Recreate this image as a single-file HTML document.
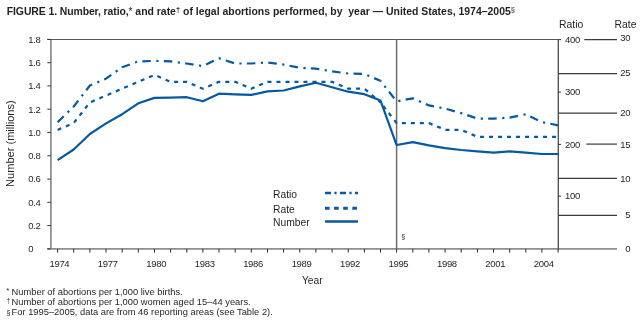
<!DOCTYPE html>
<html><head><meta charset="utf-8"><style>
html,body{margin:0;padding:0;background:#fff;width:641px;height:322px;overflow:hidden}
svg{display:block;will-change:transform}
text{font-family:"Liberation Sans",sans-serif;fill:#231f20}
</style></head><body>
<svg width="641" height="322" viewBox="0 0 641 322">
<text x="6.8" y="14.6" font-size="10.45" font-weight="bold" fill="#262224"><tspan letter-spacing="-0.1">FIGURE 1. Number, ratio,</tspan><tspan font-size="10" font-weight="normal">*</tspan><tspan> and rate</tspan><tspan font-size="7.5" dy="-2.6">†</tspan><tspan dy="2.6"> of legal abortions performed, by&#160; year — United States, 1974–2005</tspan><tspan font-size="7.5" font-weight="normal" dy="-2.2">§</tspan></text>

<line x1="50.9" y1="39.3" x2="50.9" y2="249" stroke="#8d8a8d" stroke-width="1.7"/>
<line x1="47.3" y1="39.5" x2="558" y2="39.5" stroke="#5a5558" stroke-width="1.2"/>
<line x1="47.3" y1="248.9" x2="617" y2="248.9" stroke="#8f8f8a" stroke-width="1.8"/>
<line x1="47.3" y1="248.9" x2="50.7" y2="248.9" stroke="#333" stroke-width="1"/>
<text x="28.3" y="252.2" font-size="9.5" letter-spacing="-0.3">0</text>
<line x1="47.3" y1="225.6" x2="50.7" y2="225.6" stroke="#333" stroke-width="1"/>
<text x="28.3" y="228.9" font-size="9.5" letter-spacing="-0.3">0.2</text>
<line x1="47.3" y1="202.3" x2="50.7" y2="202.3" stroke="#333" stroke-width="1"/>
<text x="28.3" y="205.6" font-size="9.5" letter-spacing="-0.3">0.4</text>
<line x1="47.3" y1="179.1" x2="50.7" y2="179.1" stroke="#333" stroke-width="1"/>
<text x="28.3" y="182.4" font-size="9.5" letter-spacing="-0.3">0.6</text>
<line x1="47.3" y1="155.8" x2="50.7" y2="155.8" stroke="#333" stroke-width="1"/>
<text x="28.3" y="159.1" font-size="9.5" letter-spacing="-0.3">0.8</text>
<line x1="47.3" y1="132.5" x2="50.7" y2="132.5" stroke="#333" stroke-width="1"/>
<text x="28.3" y="135.8" font-size="9.5" letter-spacing="-0.3">1.0</text>
<line x1="47.3" y1="109.2" x2="50.7" y2="109.2" stroke="#333" stroke-width="1"/>
<text x="28.3" y="112.5" font-size="9.5" letter-spacing="-0.3">1.2</text>
<line x1="47.3" y1="85.9" x2="50.7" y2="85.9" stroke="#333" stroke-width="1"/>
<text x="28.3" y="89.2" font-size="9.5" letter-spacing="-0.3">1.4</text>
<line x1="47.3" y1="62.7" x2="50.7" y2="62.7" stroke="#333" stroke-width="1"/>
<text x="28.3" y="66.0" font-size="9.5" letter-spacing="-0.3">1.6</text>
<line x1="47.3" y1="39.4" x2="50.7" y2="39.4" stroke="#333" stroke-width="1"/>
<text x="28.3" y="42.7" font-size="9.5" letter-spacing="-0.3">1.8</text>
<line x1="57.6" y1="249" x2="57.6" y2="252.6" stroke="#2a2a2a" stroke-width="1"/>
<line x1="73.7" y1="249" x2="73.7" y2="252.6" stroke="#2a2a2a" stroke-width="1"/>
<line x1="89.9" y1="249" x2="89.9" y2="252.6" stroke="#2a2a2a" stroke-width="1"/>
<line x1="106.0" y1="249" x2="106.0" y2="252.6" stroke="#2a2a2a" stroke-width="1"/>
<line x1="122.2" y1="249" x2="122.2" y2="252.6" stroke="#2a2a2a" stroke-width="1"/>
<line x1="138.3" y1="249" x2="138.3" y2="252.6" stroke="#2a2a2a" stroke-width="1"/>
<line x1="154.5" y1="249" x2="154.5" y2="252.6" stroke="#2a2a2a" stroke-width="1"/>
<line x1="170.6" y1="249" x2="170.6" y2="252.6" stroke="#2a2a2a" stroke-width="1"/>
<line x1="186.8" y1="249" x2="186.8" y2="252.6" stroke="#2a2a2a" stroke-width="1"/>
<line x1="202.9" y1="249" x2="202.9" y2="252.6" stroke="#2a2a2a" stroke-width="1"/>
<line x1="219.0" y1="249" x2="219.0" y2="252.6" stroke="#2a2a2a" stroke-width="1"/>
<line x1="235.2" y1="249" x2="235.2" y2="252.6" stroke="#2a2a2a" stroke-width="1"/>
<line x1="251.3" y1="249" x2="251.3" y2="252.6" stroke="#2a2a2a" stroke-width="1"/>
<line x1="267.5" y1="249" x2="267.5" y2="252.6" stroke="#2a2a2a" stroke-width="1"/>
<line x1="283.6" y1="249" x2="283.6" y2="252.6" stroke="#2a2a2a" stroke-width="1"/>
<line x1="299.8" y1="249" x2="299.8" y2="252.6" stroke="#2a2a2a" stroke-width="1"/>
<line x1="315.9" y1="249" x2="315.9" y2="252.6" stroke="#2a2a2a" stroke-width="1"/>
<line x1="332.1" y1="249" x2="332.1" y2="252.6" stroke="#2a2a2a" stroke-width="1"/>
<line x1="348.2" y1="249" x2="348.2" y2="252.6" stroke="#2a2a2a" stroke-width="1"/>
<line x1="364.4" y1="249" x2="364.4" y2="252.6" stroke="#2a2a2a" stroke-width="1"/>
<line x1="380.5" y1="249" x2="380.5" y2="252.6" stroke="#2a2a2a" stroke-width="1"/>
<line x1="396.6" y1="249" x2="396.6" y2="252.6" stroke="#2a2a2a" stroke-width="1"/>
<line x1="412.8" y1="249" x2="412.8" y2="252.6" stroke="#2a2a2a" stroke-width="1"/>
<line x1="428.9" y1="249" x2="428.9" y2="252.6" stroke="#2a2a2a" stroke-width="1"/>
<line x1="445.1" y1="249" x2="445.1" y2="252.6" stroke="#2a2a2a" stroke-width="1"/>
<line x1="461.2" y1="249" x2="461.2" y2="252.6" stroke="#2a2a2a" stroke-width="1"/>
<line x1="477.4" y1="249" x2="477.4" y2="252.6" stroke="#2a2a2a" stroke-width="1"/>
<line x1="493.5" y1="249" x2="493.5" y2="252.6" stroke="#2a2a2a" stroke-width="1"/>
<line x1="509.7" y1="249" x2="509.7" y2="252.6" stroke="#2a2a2a" stroke-width="1"/>
<line x1="525.8" y1="249" x2="525.8" y2="252.6" stroke="#2a2a2a" stroke-width="1"/>
<line x1="541.9" y1="249" x2="541.9" y2="252.6" stroke="#2a2a2a" stroke-width="1"/>
<line x1="558.1" y1="249" x2="558.1" y2="252.6" stroke="#2a2a2a" stroke-width="1"/>
<text x="59.4" y="267.4" font-size="9.5" letter-spacing="-0.3" text-anchor="middle">1974</text>
<text x="107.8" y="267.4" font-size="9.5" letter-spacing="-0.3" text-anchor="middle">1977</text>
<text x="156.3" y="267.4" font-size="9.5" letter-spacing="-0.3" text-anchor="middle">1980</text>
<text x="204.7" y="267.4" font-size="9.5" letter-spacing="-0.3" text-anchor="middle">1983</text>
<text x="253.1" y="267.4" font-size="9.5" letter-spacing="-0.3" text-anchor="middle">1986</text>
<text x="301.6" y="267.4" font-size="9.5" letter-spacing="-0.3" text-anchor="middle">1989</text>
<text x="350.0" y="267.4" font-size="9.5" letter-spacing="-0.3" text-anchor="middle">1992</text>
<text x="398.4" y="267.4" font-size="9.5" letter-spacing="-0.3" text-anchor="middle">1995</text>
<text x="446.9" y="267.4" font-size="9.5" letter-spacing="-0.3" text-anchor="middle">1998</text>
<text x="495.3" y="267.4" font-size="9.5" letter-spacing="-0.3" text-anchor="middle">2001</text>
<text x="543.7" y="267.4" font-size="9.5" letter-spacing="-0.3" text-anchor="middle">2004</text>
<line x1="396.6" y1="39.3" x2="396.6" y2="249" stroke="#6f6b70" stroke-width="1.5"/>
<text x="401.3" y="238.9" font-size="7">§</text>
<line x1="558.3" y1="39.3" x2="558.3" y2="249" stroke="#585858" stroke-width="1.4"/>
<line x1="558.2" y1="39.6" x2="561" y2="39.6" stroke="#333" stroke-width="1"/>
<text x="565" y="42.8" font-size="9.5" letter-spacing="-0.3">400</text>
<line x1="558.2" y1="92.1" x2="561" y2="92.1" stroke="#333" stroke-width="1"/>
<text x="565" y="95.3" font-size="9.5" letter-spacing="-0.3">300</text>
<line x1="558.2" y1="144.4" x2="561" y2="144.4" stroke="#333" stroke-width="1"/>
<text x="565" y="147.6" font-size="9.5" letter-spacing="-0.3">200</text>
<line x1="558.2" y1="196.1" x2="561" y2="196.1" stroke="#333" stroke-width="1"/>
<text x="565" y="199.3" font-size="9.5" letter-spacing="-0.3">100</text>
<line x1="584.3" y1="39.6" x2="617" y2="39.6" stroke="#3a3a3a" stroke-width="1.2"/>
<line x1="558.2" y1="73.6" x2="617" y2="73.6" stroke="#3a3a3a" stroke-width="1.2"/>
<line x1="558.2" y1="113.1" x2="617" y2="113.1" stroke="#3a3a3a" stroke-width="1.2"/>
<line x1="586.4" y1="144.1" x2="617" y2="144.1" stroke="#3a3a3a" stroke-width="1.2"/>
<line x1="558.2" y1="178.4" x2="617" y2="178.4" stroke="#3a3a3a" stroke-width="1.2"/>
<line x1="558.2" y1="215.4" x2="617" y2="215.4" stroke="#3a3a3a" stroke-width="1.2"/>
<text x="630.3" y="41.1" font-size="9.5" letter-spacing="-0.3" text-anchor="end">30</text>
<text x="630.3" y="76" font-size="9.5" letter-spacing="-0.3" text-anchor="end">25</text>
<text x="630.3" y="115.9" font-size="9.5" letter-spacing="-0.3" text-anchor="end">20</text>
<text x="630.3" y="147.5" font-size="9.5" letter-spacing="-0.3" text-anchor="end">15</text>
<text x="630.3" y="182.3" font-size="9.5" letter-spacing="-0.3" text-anchor="end">10</text>
<text x="630.3" y="218.3" font-size="9.5" letter-spacing="-0.3" text-anchor="end">5</text>
<text x="630.3" y="252.4" font-size="9.5" letter-spacing="-0.3" text-anchor="end">0</text>
<text x="559" y="28.0" font-size="10.4">Ratio</text>
<text x="614.5" y="28.0" font-size="10.4">Rate</text>
<text x="302" y="283.6" font-size="10.2">Year</text>
<text transform="translate(14.4,186.9) rotate(-90)" font-size="11.05">Number (millions)</text>
<text x="273" y="198" font-size="10.3">Ratio</text>
<text x="273" y="212.6" font-size="10.3">Rate</text>
<text x="273" y="225.5" font-size="10.3">Number</text>
<line x1="325" y1="193" x2="358" y2="193" stroke="#0459a3" stroke-width="2.5" stroke-dasharray="6 3.4 2.2 3.4"/>
<line x1="325" y1="208.2" x2="358" y2="208.2" stroke="#0459a3" stroke-width="2.9" stroke-dasharray="4.6 4.5"/>
<line x1="325" y1="221.5" x2="358" y2="221.5" stroke="#0459a3" stroke-width="2.5"/>
<polyline points="57.6,122.2 73.7,106.5 89.9,85.5 106.0,78.7 122.2,67.2 138.3,61.4 154.5,60.9 170.6,61.4 186.8,63.5 202.9,66.1 219.0,58.3 235.2,63.5 251.3,63.5 267.5,62.5 283.6,64.6 299.8,67.7 315.9,68.7 332.1,71.4 348.2,73.5 364.4,74.0 380.5,80.8" fill="none" stroke="#0459a3" stroke-width="2.2" stroke-dasharray="8.5 5.5 2.2 5.3" stroke-linejoin="round"/>
<polyline points="380.5,80.8 396.6,101.4 412.8,98.3 428.9,105.4 445.1,108.6 461.2,113.1 477.4,118.6 493.5,118.6 509.7,117.6 525.8,114.3 541.9,122.1 558.1,125.3" fill="none" stroke="#0459a3" stroke-width="2.2" stroke-dasharray="8.5 5.5 2.2 5.3" stroke-dashoffset="7.62" stroke-linejoin="round"/>
<polyline points="57.6,129.9 73.7,123.1 89.9,102.4 106.0,95.6 122.2,88.7 138.3,81.8 154.5,74.9 170.6,81.8 186.8,81.8 202.9,88.7 219.0,81.8 235.2,81.8 251.3,88.7 267.5,81.8 283.6,81.8 299.8,81.8 315.9,81.8 332.1,81.8 348.2,88.7 364.4,88.7 380.5,102.4" fill="none" stroke="#0459a3" stroke-width="2.2" stroke-dasharray="4 5" stroke-linejoin="round"/>
<polyline points="380.5,102.4 396.6,123.1 412.8,123.1 428.9,123.1 445.1,129.9 461.2,129.9 477.4,136.8 493.5,136.8 509.7,136.8 525.8,136.8 541.9,136.8 558.1,136.8" fill="none" stroke="#0459a3" stroke-width="2.2" stroke-dasharray="4 5" stroke-dashoffset="4.54" stroke-linejoin="round"/>
<polyline points="57.6,160.2 73.7,149.5 89.9,134.0 106.0,123.4 122.2,114.2 138.3,103.3 154.5,97.9 170.6,97.6 186.8,97.2 202.9,101.3 219.0,93.7 235.2,94.3 251.3,94.9 267.5,91.4 283.6,90.5 299.8,86.4 315.9,82.7 332.1,87.3 348.2,91.7 364.4,94.2 380.5,100.6 396.6,145.0 412.8,142.1 428.9,145.4 445.1,148.1 461.2,150.0 477.4,151.4 493.5,152.6 509.7,151.4 525.8,152.6 541.9,154.0 558.1,154.0" fill="none" stroke="#0459a3" stroke-width="2.2" stroke-linejoin="round"/>
<text x="6.3" y="292.6" font-size="8">*</text><text x="11.6" y="294.6" font-size="9.33">Number of abortions per 1,000 live births.</text>
<text x="6.6" y="303.4" font-size="6.5">†</text><text x="11.6" y="305" font-size="9.33">Number of abortions per 1,000 women aged 15–44 years.</text>
<text x="6.5" y="314.6" font-size="7.3">§</text><text x="11.6" y="315.3" font-size="9.33">For 1995–2005, data are from 46 reporting areas (see Table 2).</text>
</svg></body></html>
